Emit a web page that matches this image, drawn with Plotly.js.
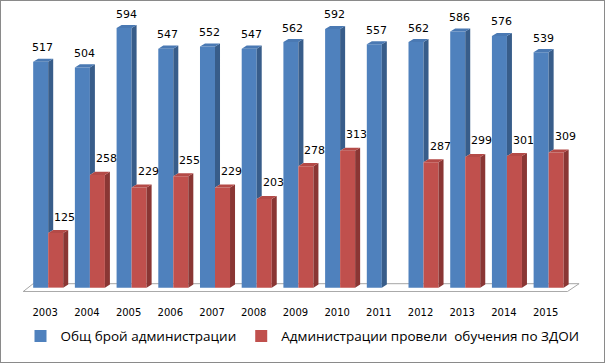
<!DOCTYPE html>
<html>
<head>
<meta charset="utf-8">
<script src="https://cdn.plot.ly/plotly-3.0.1.min.js"></script>
<style>
html,body{margin:0;padding:0;background:#fff;}
#wrap{position:relative;width:605px;height:363px;}
#chart{width:605px;height:363px;}
#frame{position:absolute;left:0;top:0;width:605px;height:363px;box-sizing:border-box;border:1px solid #8a8a8a;pointer-events:none;}
</style>
</head>
<body>
<div id="wrap"><div id="chart"></div><div id="frame"></div></div>
<script>
// ---- data ----
const years = ['2003','2004','2005','2006','2007','2008','2009','2010','2011','2012','2013','2014','2015'];
const totalAdmins = [517,504,594,547,552,547,562,592,557,562,586,576,539];
const trainedAdmins = [125,258,229,255,229,203,278,313,null,287,299,301,309];
const seriesNames = ['Общ брой администрации','Администрации провели  обучения по ЗДОИ'];

// ---- style / geometry ----
const W = 0.36, DX = 0.12, DY = 7;
const BLUE = '#4F81BD', BLUE_SIDE = '#385D8A', BLUE_TOP = '#4A79B3';
const RED = '#C0504D', RED_SIDE = '#8A3634', RED_TOP = '#B44A47';
const idx = years.map((_, i) => i);

function polys(fn) {
  const xs = [], ys = [];
  idx.forEach(i => {
    const p = fn(i);
    if (!p) return;
    p.forEach(pt => { xs.push(pt[0]); ys.push(pt[1]); });
    xs.push(p[0][0]); ys.push(p[0][1]);
    xs.push(null); ys.push(null);
  });
  return {xs, ys};
}
function faceTrace(fn, color) {
  const p = polys(fn);
  return {type:'scatter', mode:'lines', x:p.xs, y:p.ys, fill:'toself', fillcolor:color,
          line:{width:0, color:color}, hoverinfo:'skip', showlegend:false};
}

const traces = [
  {type:'bar', name:seriesNames[0], x:idx, y:totalAdmins, width:W, offset:-W,
   marker:{color:BLUE, line:{width:0}}, hoverinfo:'y'},
  {type:'bar', name:seriesNames[1], x:idx, y:trainedAdmins, width:W, offset:0,
   marker:{color:RED, line:{width:0}}, hoverinfo:'y'},
  // blue side (only part visible above red bar)
  faceTrace(i => {
    const v = totalAdmins[i], r = trainedAdmins[i] || 0;
    return [[i, r], [i+DX, r+DY], [i+DX, v+DY], [i, v]];
  }, BLUE_SIDE),
  // blue top
  faceTrace(i => {
    const v = totalAdmins[i];
    return [[i-W, v], [i-W+DX, v+DY], [i+DX, v+DY], [i, v]];
  }, BLUE_TOP),
  // red side
  faceTrace(i => {
    const r = trainedAdmins[i];
    if (r == null) return null;
    return [[i+W, 0], [i+W+DX, DY], [i+W+DX, r+DY], [i+W, r]];
  }, RED_SIDE),
  // red top
  faceTrace(i => {
    const r = trainedAdmins[i];
    if (r == null) return null;
    return [[i, r], [i+DX, r+DY], [i+W+DX, r+DY], [i+W, r]];
  }, RED_TOP)
];

const labelFont = {family:'DejaVu Sans, sans-serif', size:11, color:'#000'};
const annotations = [];
idx.forEach(i => {
  annotations.push({x:i - W/2, y:totalAdmins[i], text:String(totalAdmins[i]), showarrow:false,
    xanchor:'center', yanchor:'middle', xshift:2, yshift:14, font:labelFont});
  if (trainedAdmins[i] != null)
    annotations.push({x:i + W/2, y:trainedAdmins[i], text:String(trainedAdmins[i]), showarrow:false,
      xanchor:'center', yanchor:'middle', xshift:9, yshift:16, font:labelFont});
});

const n = years.length;
const layout = {
  width:605, height:363,
  margin:{l:19, r:23, t:8, b:71},
  paper_bgcolor:'#fff', plot_bgcolor:'rgba(0,0,0,0)',
  barmode:'overlay',
  showlegend:true,
  legend:{orientation:'h', xref:'container', yref:'container', x:0.5, xanchor:'center',
          y:0.074, yanchor:'middle', font:{family:'Open Sans, sans-serif', size:13.5, color:'#000'},
          traceorder:'normal', itemwidth:30},
  xaxis:{range:[-0.7, n - 0.2], tickvals:idx, ticktext:years, showgrid:false, zeroline:false,
         showline:false, ticks:'', tickfont:{family:'DejaVu Sans, sans-serif', size:10, color:'#000'},
         ticklabelshift:-3, ticklabelstandoff:13, fixedrange:true},
  yaxis:{range:[-10, 640], visible:false, fixedrange:true},
  shapes:[{type:'path', xref:'x', yref:'y', layer:'below',
           path:'M -0.6 -9 L ' + (n - 0.55) + ' -9 L ' + (n - 0.27) + ' 9 L -0.36 9 Z',
           line:{color:'#A6A6A6', width:1}, fillcolor:'#fff'}],
  annotations:annotations
};

Plotly.newPlot('chart', traces, layout, {displayModeBar:false, staticPlot:true});
</script>
</body>
</html>
